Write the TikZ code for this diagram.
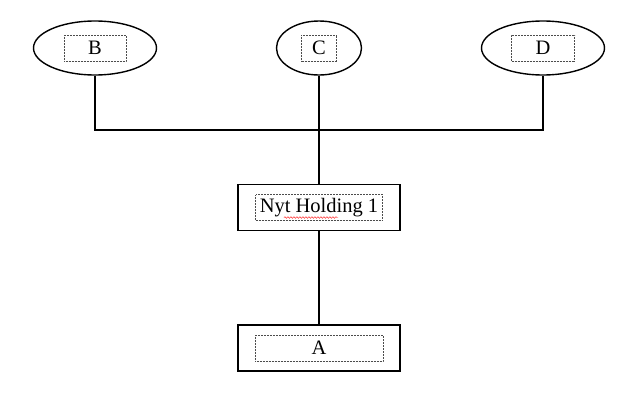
\documentclass[tikz,border=0pt]{standalone}
\usepackage{fontspec}
\setmainfont{Liberation Serif}
\usetikzlibrary{shapes.geometric,decorations.pathmorphing}

\begin{document}
\begin{tikzpicture}[x=1pt, y=-1pt,
		  owner/.style={draw, ellipse, line width=1.4pt, minimum width=123pt, minimum height=54pt, inner sep=0pt},
		  company/.style={draw, line width=1.4pt, minimum width=162pt, minimum height=46pt, inner sep=0pt},
		  tag/.style={draw=black!70, densely dotted, line width=0.5pt, minimum height=26pt, inner sep=0pt, font=\fontsize{20.5}{20.5}\selectfont},
		  link/.style={line width=1.3pt}
		]
		\useasboundingbox (0,0) rectangle (630,413);
		% owners
		\node[owner] (own_b) at (95,48) {};
		\node[owner, minimum width=85pt] (own_c) at (319,48) {};
		\node[owner] (own_d) at (543,48) {};
		\node[tag, minimum width=62pt] (own_b_txt) at (own_b) {B};
		\node[tag, minimum width=35pt] (own_c_txt) at (own_c) {C};
		\node[tag, minimum width=63pt] (own_d_txt) at (own_d) {D};
		
		% holding and company
		\node[company] (hold) at (319,207.5) {};
		\node[tag, minimum width=127pt] (hold_txt) at (hold) {Nyt Holding 1};
		\node[company] (comp_a) at (319,348) {};
		\node[tag, minimum width=128pt] (comp_a_txt) at (comp_a) {A};
		
		\coordinate (bus) at (319,130);
		\draw[link] (own_b) |- (bus) -| (own_d);
		\draw[link] (own_c) -- (hold);
		\draw[link] (hold) -- (comp_a);
		% spell check mark
		\draw[red, line width=0.4pt, decorate, decoration={snake, amplitude=0.8pt, segment length=3pt}]
		  (284,217.5) -- (338,217.5);
		\end{tikzpicture}
\end{document}
